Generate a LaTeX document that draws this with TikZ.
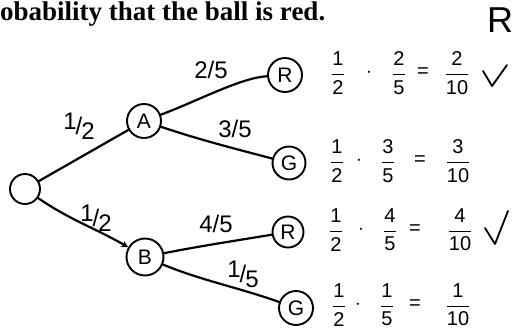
\documentclass[tikz,border=0pt]{standalone}
\usepackage{amsmath}
\usepackage{fontspec}
\setmainfont{Liberation Sans}
\newfontfamily\headfont{Liberation Serif}
\usetikzlibrary{arrows.meta}
\newcommand\fr[2]{$\genfrac{}{}{1.4pt}{0}{\hbox{#1}}{\hbox{#2}}$}
\newcommand\hlf[2]{\raisebox{5pt}{#1}\kern-1pt/\kern-1pt\raisebox{-5pt}{#2}}
\tikzset{
  st/.style={circle, draw, line width=1.9pt, inner sep=0pt, font=\fontsize{21}{23}\selectfont},
  br/.style={line width=2.2pt, line cap=round},
  lab/.style={font=\fontsize{24}{26}\selectfont, inner sep=0pt},
  eq/.style={font=\fontsize{20}{22}\selectfont, inner sep=0pt},
  chk/.style={line width=1.8pt, line cap=round, line join=round}
}
\begin{document}
\begin{tikzpicture}[x=1pt,y=-1pt]
\useasboundingbox (0,0) rectangle (512,333);
% header
\node[anchor=base west, inner sep=0pt, font=\headfont\bfseries\fontsize{27}{29}\selectfont] (hd) at (0,20.5) {obability that the ball is red.};
\node[anchor=base, inner sep=0pt, font=\fontsize{36}{38}\selectfont] (rr) at (500,32) {R};
% nodes
\node[st, minimum size=30pt] (root) at (25,189) {};
\node[st, minimum size=34pt] (A) at (144,121) {A};
\node[st, minimum size=37pt] (B) at (145,257) {B};
\node[st, minimum size=34pt] (R1) at (285,75) {R};
\node[st, minimum size=33pt] (G1) at (289,163) {G};
\node[st, minimum size=31pt] (R2) at (288,232) {R};
\node[st, minimum size=34pt] (G2) at (296,308) {G};
% branches
\draw[br] (root) -- (A);
\draw[br, -{Stealth[length=7pt,width=7pt]}] (root) .. controls (70,220) and (95,228) .. (B);
\draw[br] (A) .. controls (200,100) and (240,78) .. (R1);
\draw[br] (A) .. controls (200,140) and (240,150) .. (G1);
\draw[br] (B) .. controls (200,246) and (240,240) .. (R2);
\draw[br] (B) .. controls (200,280) and (240,288) .. (G2);
% branch labels
\node[lab] (l1) at (79,126) {\hlf{1}{2}};
\node[lab] (l2) at (96,218) {\hlf{1}{2}};
\node[lab] (l3) at (211,70) {2/5};
\node[lab] (l4) at (235,129) {3/5};
\node[lab] (l5) at (216,224) {4/5};
\node[lab] (l6) at (243,274) {\hlf{1}{5}};
% row 1
\node[eq] (a1) at (338,73) {\fr{1}{2}};
\node[eq] (a2) at (369,73) {$\cdot$};
\node[eq] (a3) at (399,73) {\fr{2}{5}};
\node[eq] (a4) at (423,73) {=};
\node[eq] (a5) at (457,73) {\fr{2}{10}};
% row 2
\node[eq] (b1) at (337,161) {\fr{1}{2}};
\node[eq] (b2) at (359,161) {$\cdot$};
\node[eq] (b3) at (388,161) {\fr{3}{5}};
\node[eq] (b4) at (420,161) {=};
\node[eq] (b5) at (458,161) {\fr{3}{10}};
% row 3
\node[eq] (c1) at (336,230) {\fr{1}{2}};
\node[eq] (c2) at (361,230) {$\cdot$};
\node[eq] (c3) at (390,230) {\fr{4}{5}};
\node[eq] (c4) at (415,230) {=};
\node[eq] (c5) at (460,230) {\fr{4}{10}};
% row 4
\node[eq] (d1) at (339,305) {\fr{1}{2}};
\node[eq] (d2) at (358,305) {$\cdot$};
\node[eq] (d3) at (387,305) {\fr{1}{5}};
\node[eq] (d4) at (415,305) {=};
\node[eq] (d5) at (458,305) {\fr{1}{10}};
% check marks
\draw[chk] (483,71) -- (492,86) -- (507,65);
\draw[chk] (485,228) -- (495,244) -- (508,211);
\end{tikzpicture}
\end{document}
